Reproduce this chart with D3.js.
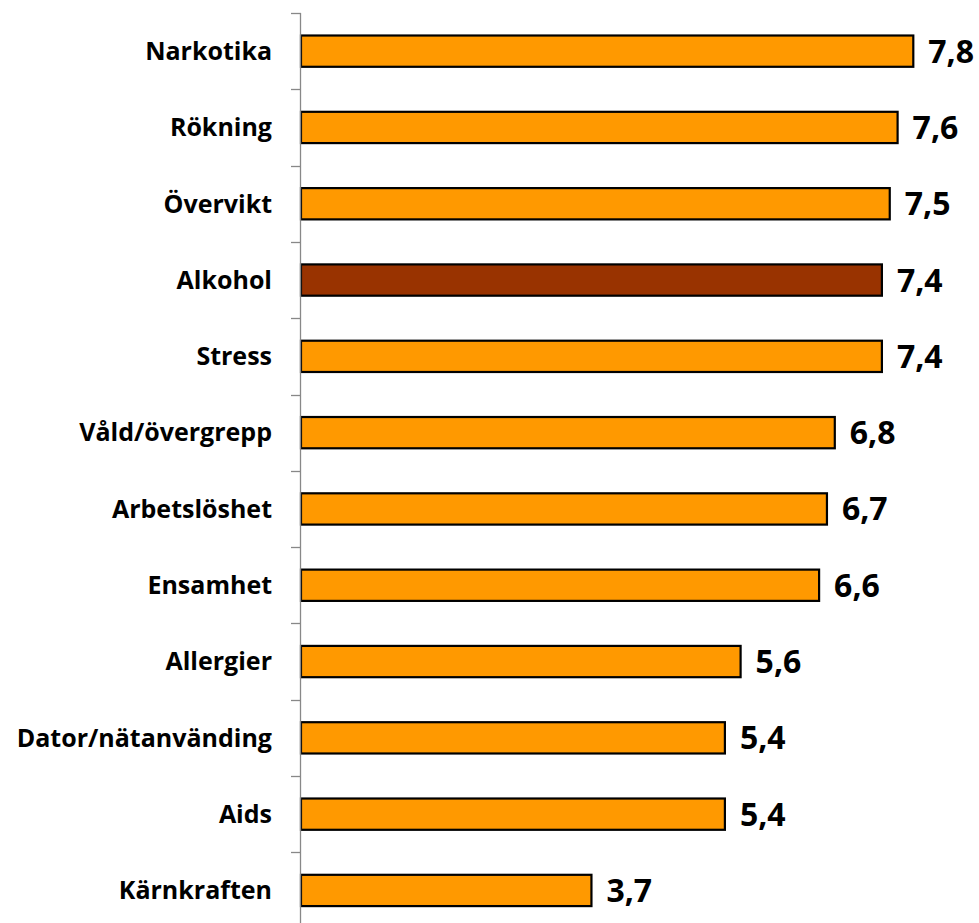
<!DOCTYPE html>
<html>
<head>
<meta charset="utf-8">
<script src="https://cdn.jsdelivr.net/npm/d3@7"></script>
<style>
  body { margin: 0; background: #fff; }
  .cat { font-family: "Open Sans", sans-serif; font-weight: bold; font-size: 25px; fill: #000; }
  .val { font-family: "Open Sans", sans-serif; font-weight: bold; font-size: 32px; fill: #000; }
</style>
</head>
<body>
<svg id="chart"></svg>
<script>
// chart data
const categories = ["Narkotika", "Rökning", "Övervikt", "Alkohol", "Stress", "Våld/övergrepp",
  "Arbetslöshet", "Ensamhet", "Allergier", "Dator/nätanvänding", "Aids", "Kärnkraften"];
const values = [7.8, 7.6, 7.5, 7.4, 7.4, 6.8, 6.7, 6.6, 5.6, 5.4, 5.4, 3.7];
const highlighted = ["Alkohol"];

const width = 979;
const height = 923;
const margin = {top: 13, left: 301};

const svg = d3.select("#chart")
  .attr("width", width)
  .attr("height", height);

const x = d3.scaleLinear()
  .domain([0, 8])
  .range([margin.left, margin.left + 628]);

const y = d3.scaleBand()
  .domain(categories)
  .range([margin.top, margin.top + 76.3 * categories.length])
  .paddingInner(0.59)
  .paddingOuter(0.295);

const data = categories.map((c, i) => ({cat: c, val: values[i]}));

// bars
svg.selectAll(".bar")
  .data(data)
  .enter()
  .append("rect")
  .attr("class", "bar")
  .attr("x", x(0))
  .attr("y", d => y(d.cat))
  .attr("width", d => x(d.val) - x(0))
  .attr("height", y.bandwidth())
  .attr("fill", d => highlighted.includes(d.cat) ? "#993300" : "#ff9900")
  .attr("stroke", "#000")
  .attr("stroke-width", 2.2);

// y axis: line plus ticks between categories
const yAxis = svg.append("g");
yAxis.append("line")
  .attr("x1", margin.left - 0.5).attr("x2", margin.left - 0.5)
  .attr("y1", margin.top).attr("y2", height)
  .attr("stroke", "#888").attr("stroke-width", 1.3);

const step = y.step();
const tickYs = d3.range(categories.length + 1).map(i => margin.top + i * step);
yAxis.selectAll(".tick")
  .data(tickYs)
  .enter()
  .append("line")
  .attr("x1", margin.left - 10).attr("x2", margin.left)
  .attr("y1", d => Math.round(d) + 0.5).attr("y2", d => Math.round(d) + 0.5)
  .attr("stroke", "#888").attr("stroke-width", 1.3);

// category labels
svg.selectAll(".cat")
  .data(data)
  .enter()
  .append("text")
  .attr("class", "cat")
  .attr("x", margin.left - 29)
  .attr("y", d => y(d.cat) + y.bandwidth() / 2)
  .attr("dy", "0.35em")
  .attr("text-anchor", "end")
  .text(d => d.cat);

// value labels
const fmt = v => d3.format(".1f")(v).replace(".", ",");
svg.selectAll(".val")
  .data(data)
  .enter()
  .append("text")
  .attr("class", "val")
  .attr("x", d => x(d.val) + 15)
  .attr("y", d => y(d.cat) + y.bandwidth() / 2)
  .attr("dy", "0.36em")
  .text(d => fmt(d.val));
</script>
</body>
</html>
